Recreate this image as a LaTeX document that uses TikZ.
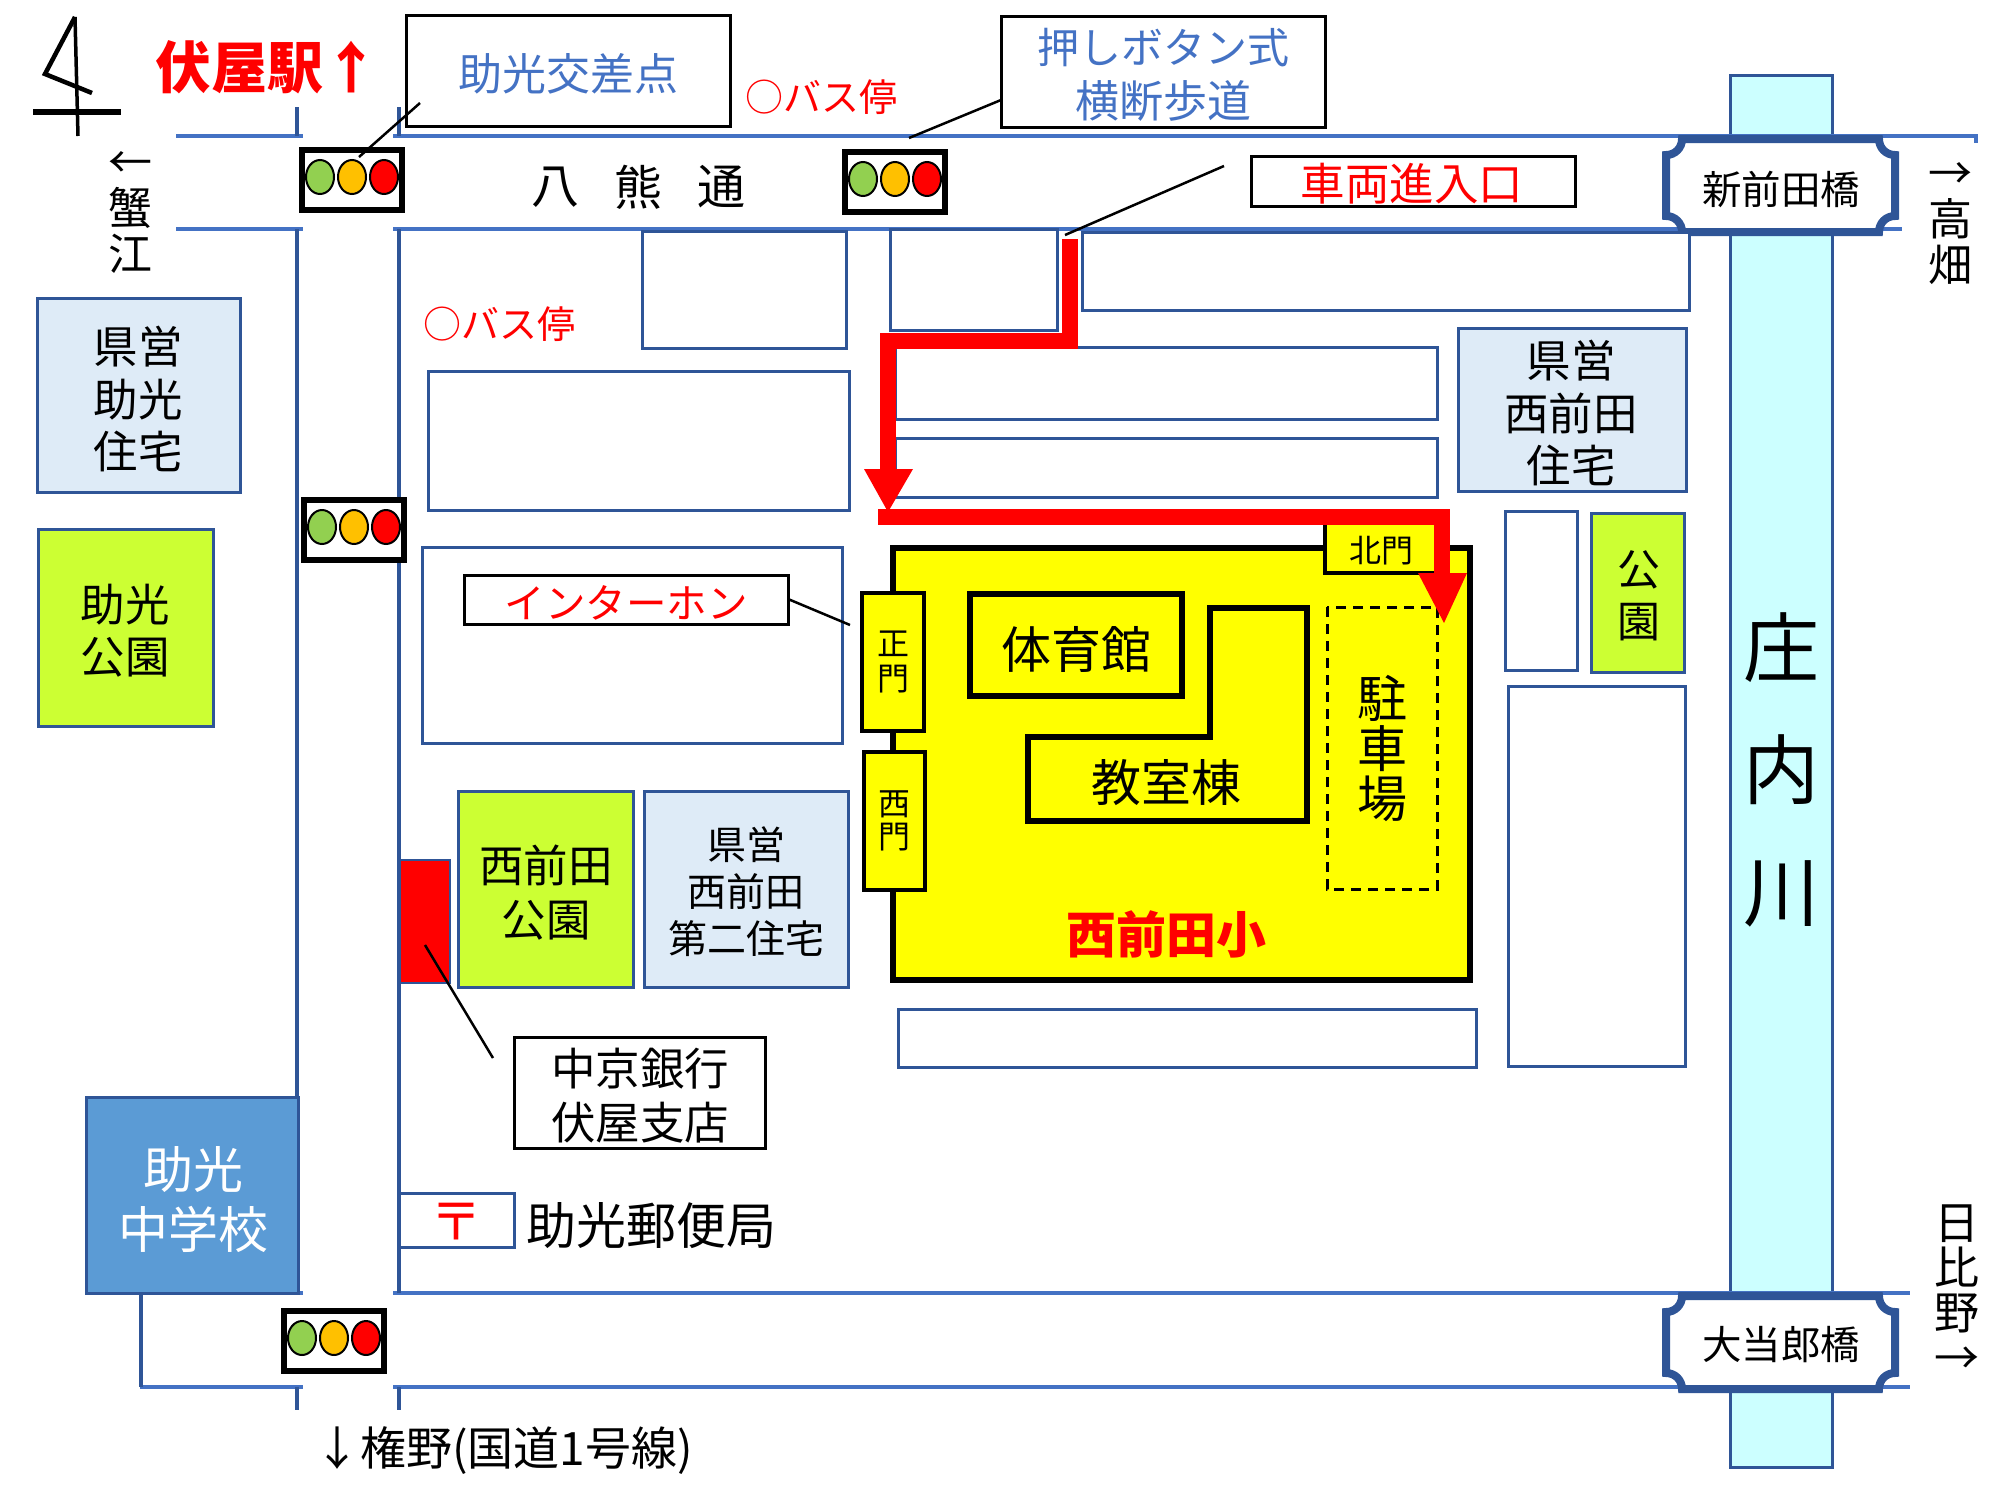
\documentclass[tikz,border=0pt]{standalone}
\usepackage{fontspec}
\setmainfont{Noto Sans CJK JP}
\definecolor{roadA}{HTML}{4472C4}
\definecolor{lineB}{HTML}{2F5597}
\definecolor{paleB}{HTML}{DEEBF7}
\definecolor{parkG}{HTML}{CCFF33}
\definecolor{riverC}{HTML}{CCFFFF}
\definecolor{schoolB}{HTML}{5B9BD5}
\definecolor{sigG}{HTML}{92D050}
\definecolor{sigY}{HTML}{FFC000}
\definecolor{schoolY}{HTML}{FFFF00}
\definecolor{pureR}{HTML}{FF0000}
\tikzset{
  x=1pt,y=-1pt,
  road/.style={draw=roadA,line width=4pt},
  street/.style={draw=lineB,line width=3.5pt},
  bld/.style={draw=lineB,line width=3pt,fill=white},
  housing/.style={bld,fill=paleB},
  park/.style={bld,fill=parkG},
  callout/.style={draw=black,line width=3pt,fill=white},
  leader/.style={draw=black,line width=2.5pt},
  hall/.style={draw=black,line width=6pt,fill=schoolY},
  gatebox/.style={draw=black,line width=4.5pt,fill=schoolY},
  plaque/.style={draw=lineB,line width=8pt,fill=white},
  routeline/.style={draw=pureR,line width=16pt},
  routehead/.style={fill=pureR},
  sigbox/.style={draw=black,line width=6pt,fill=white},
  lab/.style args={#1/#2}{inner sep=0pt,align=center,font=\fontsize{#1}{#2}\selectfont},
}
\newcommand{\signalat}[2]{%
  \draw[sigbox] (#1-50,#2-30) rectangle (#1+50,#2+30);
  \draw[black,line width=2pt,fill=sigG] (#1-32,#2-3) ellipse [x radius=14,y radius=17];
  \draw[black,line width=2pt,fill=sigY] (#1,#2-3) ellipse [x radius=14,y radius=17];
  \draw[black,line width=2pt,fill=pureR] (#1+32,#2-3) ellipse [x radius=14,y radius=17];
}
\newcommand{\bridgeat}[4]{% xl,xr,yt,yb
  \draw[plaque] (#1+16,#3) -- (#2-16,#3)
    .. controls (#2-16,#3+9) and (#2-9,#3+16) .. (#2,#3+16)
    -- (#2,#4-16)
    .. controls (#2-9,#4-16) and (#2-16,#4-9) .. (#2-16,#4)
    -- (#1+16,#4)
    .. controls (#1+16,#4-9) and (#1+9,#4-16) .. (#1,#4-16)
    -- (#1,#3+16)
    .. controls (#1+9,#3+16) and (#1+16,#3+9) .. (#1+16,#3) -- cycle;
}
\begin{document}
\begin{tikzpicture}
\useasboundingbox (0,0) rectangle (2000,1500);

% north mark
\draw[black,line width=3.5pt] (75,17) -- (78,136);
\draw[black,line width=4.5pt,line join=miter] (75,17) -- (45,74) -- (92,93);
\draw[black,line width=6pt] (33,112) -- (121,112);

% river
\draw[draw=lineB,line width=3pt,fill=riverC] (1730,75) rectangle (1832,1467);
\node[lab=76/122] (river) at (1781,770) {庄\\内\\川};

% roads
\draw[road] (176,136) -- (303,136);
\draw[road] (393,136) -- (1976,136) -- (1976,143);
\draw[road] (176,229) -- (303,229);
\draw[road] (393,229) -- (1902,229);
\draw[road] (298,1293) -- (303,1293);
\draw[road] (393,1293) -- (1910,1293);
\draw[road] (140,1387) -- (303,1387);
\draw[road] (393,1387) -- (1910,1387);
\draw[street] (297,107) -- (297,136);
\draw[street] (399,107) -- (399,136);
\draw[street] (297,229) -- (297,1097);
\draw[street] (399,229) -- (399,1293);
\draw[street] (141,1293) -- (141,1387);
\draw[street] (297,1387) -- (297,1410);
\draw[street] (399,1387) -- (399,1410);

% bridges
\bridgeat{1666}{1895}{139}{232}
\bridgeat{1666}{1895}{1296}{1389}
\node[lab=39.5/44] (brN) at (1781,189) {新前田橋};
\node[lab=39.5/44] (brS) at (1781,1345) {大当郎橋};

% plain blocks
\draw[bld] (642,231) rectangle (846,348);
\draw[bld] (890,229) rectangle (1057,330);
\draw[bld] (1082,232) rectangle (1689,310);
\draw[bld] (895,347) rectangle (1437,419);
\draw[bld] (895,438) rectangle (1437,497);
\draw[bld] (428,371) rectangle (849,510);
\draw[bld] (422,547) rectangle (842,743);
\draw[bld] (1505,511) rectangle (1577,670);
\draw[bld] (1508,686) rectangle (1685,1066);
\draw[bld] (898,1009) rectangle (1476,1067);

% housing and parks
\draw[housing] (37,298) rectangle (240,492);
\node[lab=44.5/52.5] (kenA) at (138,399) {県営\\助光\\住宅};
\draw[park] (38,529) rectangle (213,726);
\node[lab=44.5/52] (parkA) at (125,631) {助光\\公園};
\draw[housing] (1458,328) rectangle (1686,491);
\node[lab=44.5/52.5] (kenB) at (1571,413) {県営\\西前田\\住宅};
\draw[park] (1591,513) rectangle (1684,672);
\node[lab=43/52] (parkB) at (1639,596) {公\\園};
\draw[park] (458,791) rectangle (633,987);
\node[lab=44.5/54] (parkC) at (546,893) {西前田\\公園};
\draw[housing] (644,791) rectangle (848,987);
\node[lab=39/47] (kenC) at (746,892) {県営\\西前田\\第二住宅};

% bank
\draw[draw=lineB,line width=2pt,fill=pureR] (400,860) rectangle (450,983);
\draw[callout] (514,1037) rectangle (765,1148);
\node[lab=44.5/54] (bank) at (640,1096) {中京銀行\\伏屋支店};
\coordinate (bankA) at (425,945);
\coordinate (bankB) at (493,1058);
\draw[leader] (bankA) -- (bankB);

% post office
\draw[bld] (399,1193) rectangle (514,1247);
\node[lab=52/56,text=pureR] (postmark) at (456,1222) {〒};
\node[lab=50/56] (post) at (651,1226) {助光郵便局};

% junior high
\draw[draw=lineB,line width=3pt,fill=schoolB] (86,1097) rectangle (298,1293);
\node[lab=50/60,text=white] (jhs) at (193,1200) {助光\\中学校};

% school
\draw[hall] (893,548) rectangle (1470,980);
\draw[gatebox] (862,593) rectangle (924,731);
\node[lab=32/35] (gateM) at (893,662) {正\\門};
\draw[gatebox] (864,752) rectangle (925,890);
\node[lab=32/33] (gateW) at (894,821) {西\\門};
\draw[gatebox] (1325,518) rectangle (1437,573);
\node[lab=32/36] (gateN) at (1381,551) {北門};
\draw[hall] (970,594) rectangle (1182,696);
\node[lab=50/56] (gym) at (1076,649) {体育館};
\draw[hall] (1210,608) -- (1307,608) -- (1307,821) -- (1028,821) -- (1028,737) -- (1210,737) -- cycle;
\node[lab=50/56] (cls) at (1166,783) {教室棟};
\draw[black,line width=3pt,dash pattern=on 10pt off 7pt] (1327,607) rectangle (1437,889);
\node[lab=50/50] (park2) at (1382,748) {駐\\車\\場};
\node[lab=50/56,text=pureR,font=\fontsize{50}{56}\selectfont\bfseries] (schoolname) at (1166,934) {西前田小};

% route
\draw[routeline] (1070,239) -- (1070,341) -- (888,341) -- (888,470);
\fill[routehead] (864,469) -- (913,469) -- (888,512) -- cycle;
\draw[routeline] (878,516.5) -- (1442,516.5) -- (1442,575);
\fill[routehead] (1418,573) -- (1467,573) -- (1444,623) -- cycle;

% signals
\signalat{352}{180}
\signalat{895}{182}
\signalat{354}{530}
\signalat{334}{1341}

% callouts
\draw[callout] (406,15) rectangle (730,126);
\node[lab=44/50,text=roadA] (xing) at (568,74) {助光交差点};
\coordinate (xingA) at (420,103);
\coordinate (xingB) at (359,157);
\draw[leader] (xingA) -- (xingB);

\draw[callout] (1001,16) rectangle (1325,127);
\node[lab=42/54,text=roadA] (button) at (1163,75) {押しボタン式\\{\fontsize{44}{54}\selectfont 横断歩道}};
\coordinate (buttonA) at (1001,100);
\coordinate (buttonB) at (909,138);
\draw[leader] (buttonA) -- (buttonB);

\draw[callout] (1251,156) rectangle (1575,206);
\node[lab=44.5/50,text=pureR] (gate) at (1412,184) {車両進入口};
\coordinate (gateA) at (1224,166);
\coordinate (gateB) at (1065,235);
\draw[leader] (gateA) -- (gateB);

\draw[callout] (464,575) rectangle (788,624);
\node[lab=40.5/46,text=pureR] (phone) at (626,603) {インターホン};
\coordinate (phoneA) at (788,599);
\coordinate (phoneB) at (850,625);
\draw[leader] (phoneA) -- (phoneB);

% free labels
\node[lab=56/60,text=pureR,font=\fontsize{56}{60}\selectfont\bfseries,anchor=west] (station) at (155,67) {伏屋駅↑};
\node[lab=38/44,text=pureR] (busA) at (821,97) {○バス停};
\node[lab=38/44,text=pureR] (busB) at (499,324) {○バス停};
\node[lab=48/50] (yaA) at (555,187) {八};
\node[lab=48/50] (yaB) at (638,187) {熊};
\node[lab=48/50] (yaC) at (721,187) {通};
\node[lab=44/46] (west) at (130,212) {←\\蟹\\江};
\node[lab=44/46] (east) at (1950,224) {→\\高\\畑};
\node[lab=45/45] (south) at (1957,1290) {日\\比\\野\\→};
\node[lab=46/50,anchor=west] (route1) at (314,1451) {↓権野(国道1号線)};
\end{tikzpicture}
\end{document}
